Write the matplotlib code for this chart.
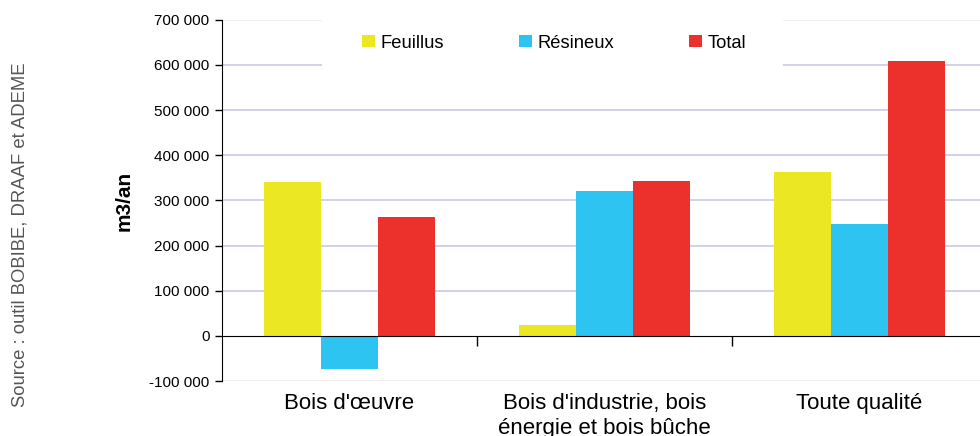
import numpy as np
import matplotlib.pyplot as plt
from matplotlib.ticker import FuncFormatter, FixedLocator
from matplotlib.patches import Rectangle

plt.rcParams['font.family'] = ['Liberation Sans', 'DejaVu Sans']

# Data (m3/an)
categories = ["Bois d'œuvre", "Bois d'industrie, bois\nénergie et bois bûche", "Toute qualité"]
feuillus = [341000, 23000, 363000]
resineux = [-74000, 321000, 248000]
total = [264000, 343000, 609000]
series_names = ['Feuillus', 'Résineux', 'Total']
colors = ['#EBE823', '#2EC4F1', '#EC302C']

W, H = 980, 436
fig = plt.figure(figsize=(W / 100, H / 100), dpi=100)
ax = fig.add_axes([222 / W, 1 - 381 / H, 765 / W, (381 - 19.67) / H])

x = np.arange(len(categories))
bw = 57 / 255
for i, (vals, name, c) in enumerate(zip([feuillus, resineux, total], series_names, colors)):
    ax.bar(x + (i - 1) * bw, vals, bw, color=c, label=name, zorder=3)

ax.set_xlim(-0.5, 2.5)
ax.set_ylim(-100000, 700000)
ax.set_yticks(np.arange(-100000, 700001, 100000))
ax.yaxis.set_major_formatter(FuncFormatter(lambda v, p: f'{int(v):,}'.replace(',', ' ')))
ax.tick_params(axis='y', length=5, width=1, pad=4, labelsize=11, direction='out')

# gridlines: lavender inside, faint at the limits
for v in np.arange(100000, 600001, 100000):
    ax.axhline(v, color='#C8C8E6', lw=1.2, zorder=1)
for v in (-100000, 700000):
    ax.axhline(v, color='#EEEEEE', lw=1.2, zorder=1)

# x axis at zero, category boundaries as ticks
ax.spines['top'].set_visible(False)
ax.spines['right'].set_visible(False)
ax.spines['bottom'].set_position(('data', 0))
ax.spines['bottom'].set_zorder(4)
ax.xaxis.set_major_locator(FixedLocator([0.5, 1.5]))
ax.xaxis.set_major_formatter(FuncFormatter(lambda v, p: ''))
ax.tick_params(axis='x', length=7, width=1, direction='out')
for xi, lab in zip(x, categories):
    ax.annotate(lab, xy=(xi, 0), xycoords=('data', 'axes fraction'),
                xytext=(0, -8.5), textcoords='offset points',
                ha='center', va='top', fontsize=16, linespacing=1.29,
                annotation_clip=False)

ax.set_ylabel('m3/an', fontsize=15, fontweight='bold')
ax.yaxis.set_label_coords(134 / W, 1 - 201 / H, transform=fig.transFigure)

# white box behind the legend
ax.add_patch(Rectangle((322 / W, 1 - 70 / H), (783 - 322) / W, 56 / H,
                       transform=fig.transFigure, facecolor='white', edgecolor='none', zorder=2))
leg = ax.legend(loc='center', bbox_to_anchor=(554 / W, 1 - 43 / H), bbox_transform=fig.transFigure,
                ncol=3, frameon=False, fontsize=13.2, handlelength=0.7, handleheight=0.7,
                handletextpad=0.3, columnspacing=4.1)

fig.text(20 / W, 1 - 235 / H, 'Source : outil BOBIBE, DRAAF et ADEME', rotation=90,
         ha='center', va='center', fontsize=13.3, color='#555555')

fig.savefig('out.png', dpi=100)
